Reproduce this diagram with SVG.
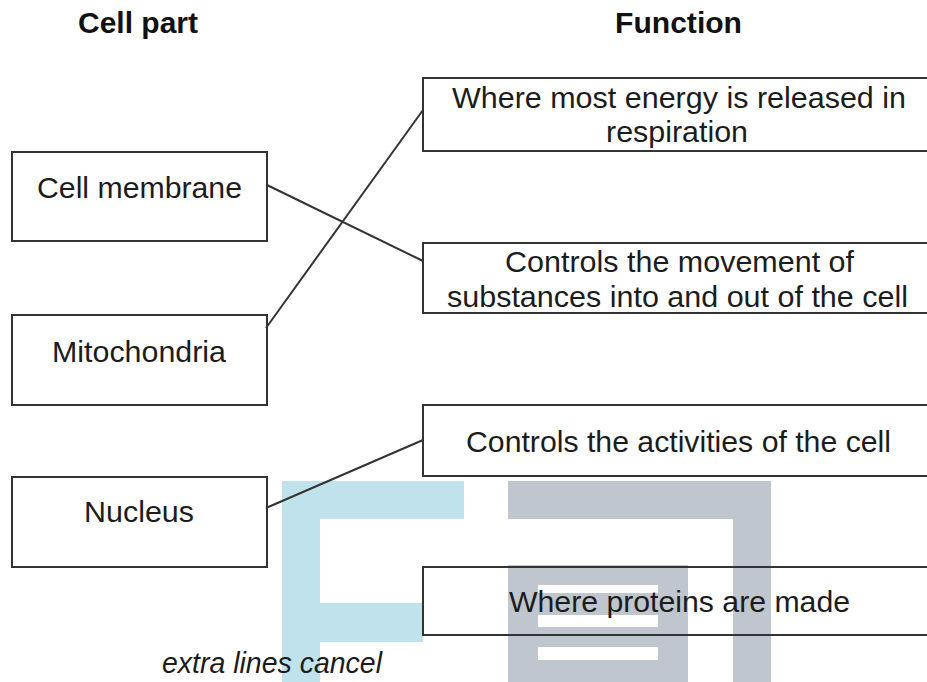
<svg xmlns="http://www.w3.org/2000/svg" width="927" height="682" viewBox="0 0 927 682">
<style>
.t{font-family:"Liberation Sans",Arial,sans-serif;font-size:30px;fill:#1c1c1c}
.h{font-family:"Liberation Sans",Arial,sans-serif;font-size:29px;font-weight:bold;fill:#111}
.box{fill:none;stroke:#333;stroke-width:2}
.ln{stroke:#333;stroke-width:2;fill:none}
.wb{fill:#bfe2ed}
.wg{fill:#bfc6cd}
</style>
<rect width="927" height="682" fill="#fff"/>
<g id="watermark">
<path class="wb" d="M282,481 H464 V519 H320 V603 H423 V642 H320 V682 H282 Z"/>
<path class="wg" d="M508,481 H771 V682 H733 V519 H508 Z"/>
<rect class="wg" x="508" y="565" width="180" height="117"/>
<rect x="538" y="585" width="120" height="8" fill="#fff"/>
<rect x="538" y="615" width="120" height="12" fill="#fff"/>
<rect x="538" y="647" width="120" height="13" fill="#fff"/>
</g>
<g id="headings">
<text class="h" x="78" y="33" textLength="120" lengthAdjust="spacingAndGlyphs">Cell part</text>
<text class="h" x="615" y="33" textLength="127" lengthAdjust="spacingAndGlyphs">Function</text>
</g>
<g id="connectors">
<line class="ln" x1="267" y1="185" x2="423" y2="261"/>
<line class="ln" x1="266" y1="328" x2="423" y2="110"/>
<line class="ln" x1="266" y1="508" x2="423" y2="440"/>
</g>
<g id="cell-membrane">
<rect class="box" x="12" y="152" width="255" height="89"/>
<text class="t" x="37" y="198" textLength="205" lengthAdjust="spacingAndGlyphs">Cell membrane</text>
</g>
<g id="mitochondria">
<rect class="box" x="12" y="315" width="255" height="90"/>
<text class="t" x="52" y="362" textLength="174" lengthAdjust="spacingAndGlyphs">Mitochondria</text>
</g>
<g id="nucleus">
<rect class="box" x="12" y="477" width="255" height="90"/>
<text class="t" x="84" y="522" textLength="110" lengthAdjust="spacingAndGlyphs">Nucleus</text>
</g>
<g id="f-energy">
<rect class="box" x="423" y="78" width="520" height="73"/>
<text class="t" x="452" y="108" textLength="454" lengthAdjust="spacingAndGlyphs">Where most energy is released in</text>
<text class="t" x="606" y="142" textLength="142" lengthAdjust="spacingAndGlyphs">respiration</text>
</g>
<g id="f-movement">
<rect class="box" x="423" y="243" width="520" height="70"/>
<text class="t" x="505" y="272" textLength="349" lengthAdjust="spacingAndGlyphs">Controls the movement of</text>
<text class="t" x="447" y="307" textLength="461" lengthAdjust="spacingAndGlyphs">substances into and out of the cell</text>
</g>
<g id="f-activities">
<rect class="box" x="423" y="405" width="520" height="71"/>
<text class="t" x="466" y="452" textLength="425" lengthAdjust="spacingAndGlyphs">Controls the activities of the cell</text>
</g>
<g id="f-proteins">
<rect class="box" x="423" y="567" width="520" height="68"/>
<text class="t" x="509" y="612" textLength="341" lengthAdjust="spacingAndGlyphs">Where proteins are made</text>
</g>
<g id="note">
<text class="t" x="162" y="673" font-style="italic" font-size="28" textLength="220" lengthAdjust="spacingAndGlyphs">extra lines cancel</text>
</g>
</svg>
